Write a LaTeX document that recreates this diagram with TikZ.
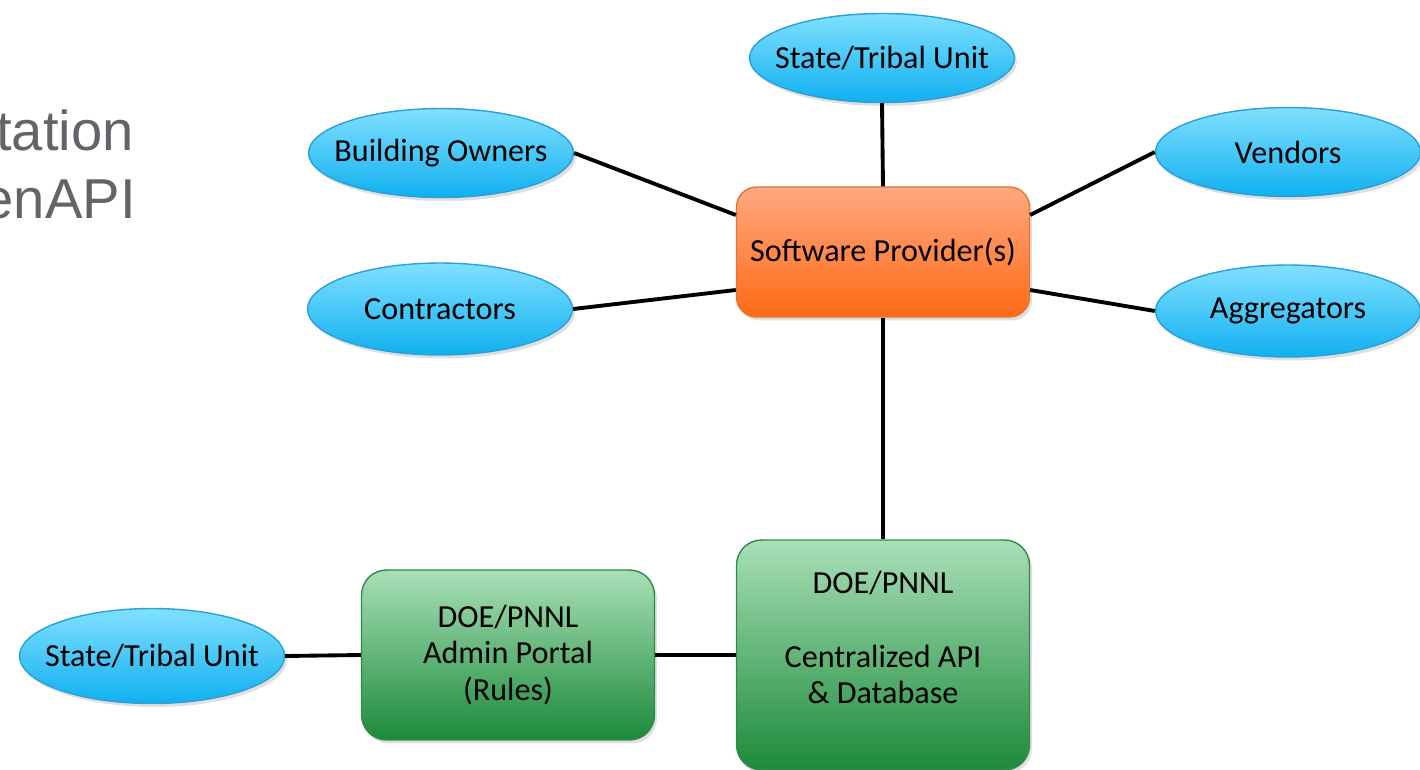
\documentclass[tikz,border=0pt]{standalone}
\usepackage{fontspec}
\setmainfont{Carlito}
\newfontfamily\titlefont{Liberation Sans}
\usetikzlibrary{shapes.geometric,shadows,calc}
\definecolor{elltop}{HTML}{80E0FF}
\definecolor{ellbot}{HTML}{10B0F0}
\definecolor{elldraw}{HTML}{2A9FD8}
\definecolor{ortop}{HTML}{FFA882}
\definecolor{orbot}{HTML}{FF6A14}
\definecolor{ordraw}{HTML}{E0782E}
\definecolor{grtop}{HTML}{A9DFB7}
\definecolor{grbot}{HTML}{1C8A3A}
\definecolor{grdraw}{HTML}{2E8B4A}
\definecolor{titlegrey}{HTML}{636469}
\tikzset{
  txt/.style={font=\fontsize{18.3}{21}\selectfont, text=black, align=center},
  oval/.style={txt, ellipse, draw=elldraw, line width=0.8pt, top color=elltop, bottom color=ellbot,
    minimum width=5.3cm, minimum height=1.78cm, inner xsep=-1.5cm, inner ysep=0pt,
    drop shadow={opacity=0.25, shadow xshift=0.05cm, shadow yshift=-0.07cm}},
  orbox/.style={txt, rectangle, rounded corners=0.4cm, draw=ordraw, line width=0.8pt,
    top color=ortop, bottom color=orbot, minimum width=5.86cm, minimum height=2.6cm, inner sep=0pt,
    drop shadow={opacity=0.25, shadow xshift=0.05cm, shadow yshift=-0.07cm}},
  grbox/.style={txt, rectangle, rounded corners=0.5cm, draw=grdraw, line width=0.8pt,
    top color=grtop, bottom color=grbot, minimum width=5.86cm, inner sep=0pt,
    drop shadow={opacity=0.25, shadow xshift=0.05cm, shadow yshift=-0.07cm}},
  link/.style={draw=black, line width=2.2pt},
  title/.style={font=\titlefont\fontsize{32}{38}\selectfont, text=titlegrey, anchor=base east, inner sep=0pt}
}
\begin{document}
\begin{tikzpicture}[x=0.02cm, y=-0.02cm]
\useasboundingbox (0,0) rectangle (1420,770);
\clip (0,0) rectangle (1420,770);
\fill[white] (0,0) rectangle (1420,770);

\node[title] (t1) at (134,151) {tation};
\node[title] (t2) at (136,219) {enAPI};

\node[orbox] (sp) at (883,252) {Software Provider(s)};
\node[grbox, minimum height=4.6cm] (db) at (883,655) {\rule{0pt}{20pt}DOE/PNNL\\ \strut\\ Centralized API\\ \& Database\\ \strut};
\node[grbox, minimum height=3.4cm] (ap) at (508,655) {DOE/PNNL\\ Admin Portal\\ (Rules)};

\node[oval] (st) at (882,58) {State/Tribal Unit};
\node[oval] (bo) at (441,153) {Building Owners};
\node[oval] (ve) at (1288,152) {Vendors};
\node[oval, minimum height=1.84cm] (co) at (440,309) {Contractors};
\node[oval, minimum height=1.84cm] (ag) at (1288,311) {Aggregators};
\node[oval, minimum height=1.9cm] (sb) at (152,656) {State/Tribal Unit};

\draw[link] (st.south) -- (sp.north);
\draw[link] (bo.east) -- ([yshift=0.74cm]sp.west);
\draw[link] (co.east) -- ([yshift=-0.76cm]sp.west);
\draw[link] (ve.west) -- ([yshift=0.74cm]sp.east);
\draw[link] (ag.west) -- ([yshift=-0.76cm]sp.east);
\draw[link] (sp.south) -- (db.north);
\draw[link] (ap.east) -- (db.west);
\draw[link] (sb.east) -- (ap.west);
\end{tikzpicture}
\end{document}
